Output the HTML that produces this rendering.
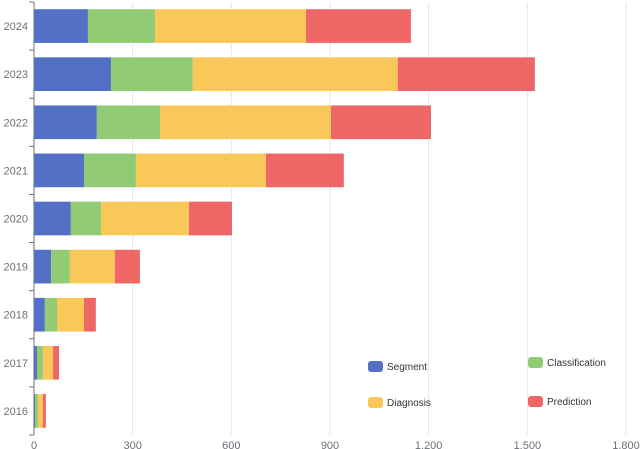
<!DOCTYPE html>
<html><head><meta charset="utf-8"><style>
html,body{margin:0;padding:0;background:#fff;}
svg{display:block;font-family:"Liberation Sans","DejaVu Sans",sans-serif;}
</style></head><body>
<svg id="chart" width="640" height="449"></svg>
<script>
const categories=["2024","2023","2022","2021","2020","2019","2018","2017","2016"];
const seriesNames=["Segment","Classification","Diagnosis","Prediction"];
const segmentVals=[164,234,191,152,112,52,33,9,3];
const classificationVals=[204,249,192,158,92,57,37,18,9];
const diagnosisVals=[459,623,520,395,267,137,82,31,15];
const predictionVals=[319,417,304,237,131,76,36,18,9];
const xTicks=[0,300,600,900,1200,1500,1800];
const xTickLabels=["0","300","600","900","1,200","1,500","1,800"];
const colors=["#5470c6","#91cc75","#fac858","#ee6666"];
const NS="http://www.w3.org/2000/svg";
const svg=document.getElementById("chart");
const x0=34,x1=626,yTop=2,yBot=435,xMax=1800;
const band=(yBot-yTop)/categories.length;
const xs=v=>x0+v/xMax*(x1-x0);
const yb=i=>yTop+i*band;
function mk(tag,attrs){const e=document.createElementNS(NS,tag);for(const k in attrs)e.setAttribute(k,attrs[k]);svg.appendChild(e);return e;}
xTicks.forEach((t,i)=>{
  if(t>0){const g=mk("line",{x1:xs(t),x2:xs(t),y1:yTop,y2:yBot,stroke:"#e0e6f1","stroke-width":1});
  
  }
  const tx=mk("text",{x:xs(t),y:449,"text-anchor":"middle","font-size":11,fill:"#6e7079"});
  tx.textContent=xTickLabels[i];
  
  
});
const ax=mk("line",{x1:x0,x2:x0,y1:yTop,y2:yBot,stroke:"#6e7079","stroke-width":1});


for(let i=0;i<=categories.length;i++){
  const tk=mk("line",{x1:x0-5,x2:x0,y1:yb(i),y2:yb(i),stroke:"#6e7079"});
  
  
}
const all=[segmentVals,classificationVals,diagnosisVals,predictionVals];
categories.forEach((c,i)=>{
  const yc=yb(i)+band/2,h=band*0.7;
  let acc=0;
  all.forEach((arr,s)=>{
    const r=mk("rect",{x:xs(acc),y:yc-h/2,width:xs(acc+arr[i])-xs(acc),height:h,fill:colors[s]});
    
    
    acc+=arr[i];
  });
  const l=mk("text",{x:28,y:yc+4,"text-anchor":"end","font-size":11,fill:"#6e7079"});
  l.textContent=c;
  
  
});
const legPos=[[368,361],[528,357],[368,397],[528,396]];
seriesNames.forEach((n,s)=>{
  const [lx,ly]=legPos[s];
  const r=mk("rect",{x:lx,y:ly,width:15,height:11,rx:3,fill:colors[s]});
  
  
  const t=mk("text",{x:lx+19,y:ly+9,"font-size":10,fill:"#333"});
  t.textContent=n;
  
  
});
</script>
</body></html>
